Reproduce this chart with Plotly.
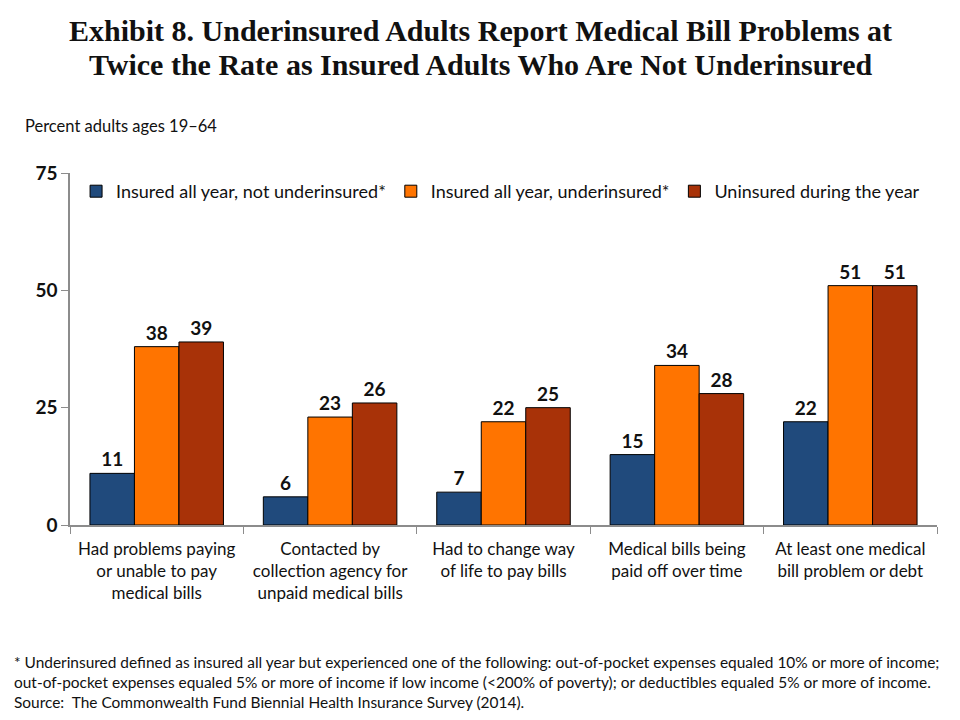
import plotly.graph_objects as go

categories = [
    "Had problems paying<br>or unable to pay<br>medical bills",
    "Contacted by<br>collection agency for<br>unpaid medical bills",
    "Had to change way<br>of life to pay bills",
    "Medical bills being<br>paid off over time",
    "At least one medical<br>bill problem or debt",
]
series_names = [
    "Insured all year, not underinsured*",
    "Insured all year, underinsured*",
    "Uninsured during the year",
]
not_underinsured = [11, 6, 7, 15, 22]
underinsured = [38, 23, 22, 34, 51]
uninsured = [39, 26, 25, 28, 51]
colors = ["#204A7C", "#FF7400", "#A83208"]
y_ticks = [0, 25, 50, 75]

title_lines = [
    "Exhibit 8. Underinsured Adults Report Medical Bill Problems at",
    "Twice the Rate as Insured Adults Who Are Not Underinsured",
]

font_sans = "Lato, 'Open Sans', sans-serif"
font_serif = "'Liberation Serif', 'DejaVu Serif', serif"

fig = go.Figure()
for name, vals, col in zip(series_names, [not_underinsured, underinsured, uninsured], colors):
    fig.add_trace(go.Bar(
        x=categories, y=vals, name=name,
        marker=dict(color=col, line=dict(color="#000000", width=1)),
        text=[str(v) for v in vals], textposition="outside",
        textfont=dict(family=font_sans, size=19, color="#111111", weight="bold"),
        cliponaxis=False,
    ))

annotations = []
for i, line in enumerate(title_lines):
    annotations.append(dict(
        text="<b>" + line + "</b>", xref="paper", yref="paper",
        x=0.5, xshift=-23, y=1.0, yshift=173 - 30 - 34 * i,
        xanchor="center", yanchor="middle", showarrow=False,
        font=dict(family=font_serif, size=30, color="#111111")))

annotations += [
    dict(text="Percent adults ages 19–64", xref="paper", yref="paper",
         x=0, xshift=-47, y=1.0, yshift=47, xanchor="left", yanchor="middle", showarrow=False,
         font=dict(family=font_sans, size=16.5, color="#111111")),
    dict(text="* Underinsured defined as insured all year but experienced one of the following: out-of-pocket expenses equaled 10% or more of income;<br>"
              "out-of-pocket expenses equaled 5% or more of income if low income (<200% of poverty); or deductibles equaled 5% or more of income.<br>"
              "Source:  The Commonwealth Fund Biennial Health Insurance Survey (2014).",
         xref="paper", yref="paper", x=0, xshift=-58, y=0, yshift=-126, xanchor="left", yanchor="top",
         align="left", showarrow=False,
         font=dict(family=font_sans, size=15.45, color="#111111")),
]

fig.update_layout(
    width=960, height=720,
    paper_bgcolor="white", plot_bgcolor="white",
    margin=dict(l=70, r=23, t=173, b=195, autoexpand=False),
    barmode="group", bargap=0.23, bargroupgap=0,
    legend=dict(
        orientation="h", x=0.007, xanchor="left", y=1.0, yanchor="top",
        font=dict(family=font_sans, size=18, color="#111111"),
        bgcolor="rgba(0,0,0,0)", itemwidth=30, traceorder="normal",
    ),
    xaxis=dict(
        showline=True, linecolor="#8C8C8C", linewidth=1.5,
        ticks="outside", tickson="boundaries", ticklen=7, tickcolor="#8C8C8C",
        tickfont=dict(family=font_sans, size=17, color="#111111"),
        ticklabelstandoff=8, automargin=False,
        showgrid=False,
    ),
    yaxis=dict(
        range=[0, 75], tickvals=y_ticks,
        showline=True, linecolor="#8C8C8C", linewidth=1.5,
        ticks="outside", ticklen=7, tickcolor="#8C8C8C",
        tickfont=dict(family=font_sans, size=19, color="#111111", weight="bold"),
        showgrid=False, zeroline=False, automargin=False,
    ),
    annotations=annotations,
)

fig.write_html("out.html", config={"displayModeBar": False},
               post_script="document.body.style.margin='0';")
